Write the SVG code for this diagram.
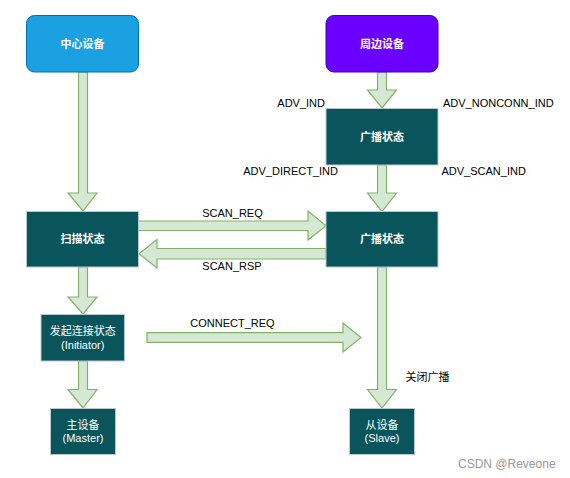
<svg xmlns="http://www.w3.org/2000/svg" width="570" height="478" viewBox="0 0 570 478">
<style>
.arrow{fill:#D5E8D4;stroke:#82B366;stroke-width:1.2;stroke-linejoin:miter}
.dark{fill:#09555B;stroke:#BAC8D3;stroke-width:1}
.nt{font-family:"Liberation Sans","Noto Sans CJK SC",sans-serif;font-size:11px;fill:#FFFFFF;text-anchor:middle}
.b{font-weight:bold}
.lbl{font-family:"Liberation Sans","Noto Sans CJK SC",sans-serif;font-size:11px;fill:#000000}
</style>
<rect width="570" height="478" fill="#FFFFFF"/>
<g id="connectors">
<polygon class="arrow" points="78.5,72 87.5,72 87.5,193 97,193 83,211 68,193 78.5,193"/>
<polygon class="arrow" points="377.5,72 386.5,72 386.5,90 396.5,90 382,108 367.5,90 377.5,90"/>
<polygon class="arrow" points="377.5,165 386.5,165 386.5,193 396.5,193 382,211.5 367.5,193 377.5,193"/>
<polygon class="arrow" points="138,221 308,221 308,211 326,225.75 308,240 308,230.5 138,230.5"/>
<polygon class="arrow" points="326,248.5 157,248.5 157,239.5 139,253.75 157,268 157,259 326,259"/>
<polygon class="arrow" points="78.5,267 87.5,267 87.5,297 97,297 83,314 68,297 78.5,297"/>
<polygon class="arrow" points="147,332.7 343,332.7 343,323 361,337.5 343,352 343,342.3 147,342.3"/>
<polygon class="arrow" points="78.5,361 87.5,361 87.5,389.5 97,389.5 83,408 68,389.5 78.5,389.5"/>
<polygon class="arrow" points="377.5,267 386.5,267 386.5,389.5 396.5,389.5 382,408 367.5,389.5 377.5,389.5"/>
</g>
<g id="central">
<rect x="26.5" y="15.5" width="112" height="56.5" rx="8" fill="#1BA1E2" stroke="#006EAF"/>
<text class="nt b" x="82.5" y="47.5">中心设备</text>
</g>
<g id="peripheral">
<rect x="326" y="15.5" width="112" height="56.5" rx="8" fill="#6A00FF" stroke="#3700CC"/>
<text class="nt b" x="382" y="47.5">周边设备</text>
</g>
<g id="adv1">
<rect class="dark" x="326" y="108.5" width="112" height="56.5"/>
<text class="nt b" x="382" y="140.5">广播状态</text>
</g>
<g id="scan">
<rect class="dark" x="26.5" y="211.5" width="112" height="55.5"/>
<text class="nt b" x="82.5" y="243">扫描状态</text>
</g>
<g id="adv2">
<rect class="dark" x="326" y="211.5" width="112" height="55.5"/>
<text class="nt b" x="382" y="243">广播状态</text>
</g>
<g id="initiator">
<rect class="dark" x="41" y="314.5" width="83.5" height="46.5"/>
<text class="nt" x="82.75" y="334.5">发起连接状态</text>
<text class="nt" x="82.75" y="349">(Initiator)</text>
</g>
<g id="master">
<rect class="dark" x="50.5" y="408.5" width="65" height="46"/>
<text class="nt" x="83" y="429">主设备</text>
<text class="nt" x="83" y="442">(Master)</text>
</g>
<g id="slave">
<rect class="dark" x="349.5" y="408.5" width="65" height="46"/>
<text class="nt" x="382" y="429">从设备</text>
<text class="nt" x="382" y="442">(Slave)</text>
</g>
<g id="labels">
<text class="lbl" x="325" y="107" text-anchor="end">ADV_IND</text>
<text class="lbl" x="443" y="107">ADV_NONCONN_IND</text>
<text class="lbl" x="338" y="174.5" text-anchor="end">ADV_DIRECT_IND</text>
<text class="lbl" x="441.5" y="174.5">ADV_SCAN_IND</text>
<text class="lbl" x="232.5" y="216.5" text-anchor="middle">SCAN_REQ</text>
<text class="lbl" x="232" y="269.5" text-anchor="middle">SCAN_RSP</text>
<text class="lbl" x="232.5" y="327" text-anchor="middle">CONNECT_REQ</text>
<text class="lbl" x="405.5" y="380.5">关闭广播</text>
<text x="458" y="467.5" font-family="Liberation Sans,sans-serif" font-size="12px" fill="#999999">CSDN @Reveone</text>
</g>
</svg>
